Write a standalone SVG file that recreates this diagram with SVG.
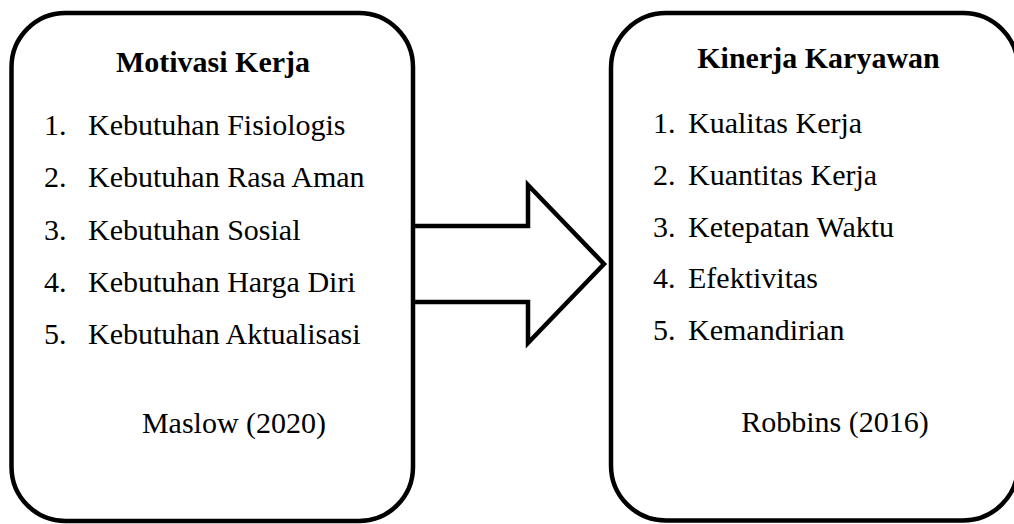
<svg xmlns="http://www.w3.org/2000/svg" width="1014" height="524" viewBox="0 0 1014 524">
<style>
.box{fill:#fff;stroke:#000;stroke-width:4.5}
.arrow{fill:#fff;stroke:#000;stroke-width:4.5;stroke-linejoin:miter}
text{font-family:"Liberation Serif","Times New Roman",serif;font-size:30px;fill:#000}
.title{font-weight:bold;text-anchor:middle}
.mid{text-anchor:middle}
</style>
<rect width="1014" height="524" fill="#fff"/>
<g id="connectors">
<path class="arrow" d="M413,226 H528 V185 L604,264 L528,343 V302 H413"/>
</g>
<g id="motivasi">
<rect class="box" x="11.5" y="13" width="401.5" height="508" rx="54" ry="54"/>
<text class="title" x="213" y="72">Motivasi Kerja</text>
<text x="44" y="135">1.</text><text x="88" y="135">Kebutuhan Fisiologis</text>
<text x="44" y="187">2.</text><text x="88" y="187">Kebutuhan Rasa Aman</text>
<text x="44" y="240">3.</text><text x="88" y="240">Kebutuhan Sosial</text>
<text x="44" y="292">4.</text><text x="88" y="292">Kebutuhan Harga Diri</text>
<text x="44" y="344">5.</text><text x="88" y="344">Kebutuhan Aktualisasi</text>
<text class="mid" x="234" y="433">Maslow (2020)</text>
</g>
<g id="kinerja">
<rect class="box" x="611" y="13" width="407" height="507.5" rx="55" ry="55"/>
<text class="title" x="818.5" y="68">Kinerja Karyawan</text>
<text x="653" y="133">1.</text><text x="688" y="133">Kualitas Kerja</text>
<text x="653" y="185">2.</text><text x="688" y="185">Kuantitas Kerja</text>
<text x="653" y="237">3.</text><text x="688" y="237">Ketepatan Waktu</text>
<text x="653" y="288">4.</text><text x="688" y="288">Efektivitas</text>
<text x="653" y="340">5.</text><text x="688" y="340">Kemandirian</text>
<text class="mid" x="835" y="432">Robbins (2016)</text>
</g>
</svg>
